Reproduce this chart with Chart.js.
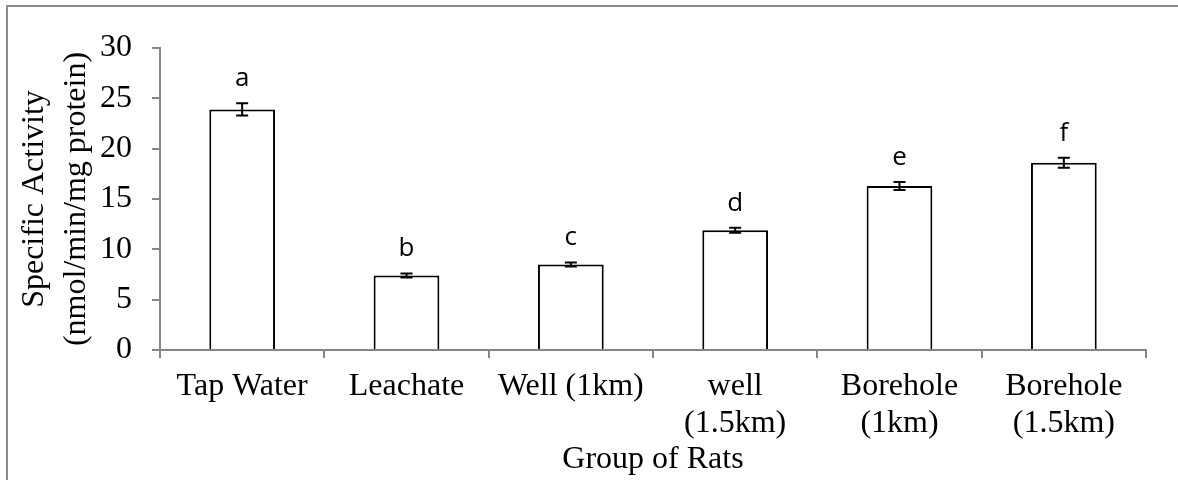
<!DOCTYPE html>
<html>
<head>
<meta charset="utf-8">
<script src="https://cdn.jsdelivr.net/npm/chart.js@4.4.1/dist/chart.umd.min.js"></script>
<style>
  html, body { margin: 0; padding: 0; background: #fff; }
  #wrap { position: relative; width: 1178px; height: 480px; }
  #frame { position: absolute; left: 6px; top: 5px; right: 0; bottom: 0; border-left: 2px solid #8a8a8a; border-top: 2px solid #8a8a8a; pointer-events: none; }
</style>
</head>
<body>
<div id="wrap">
  <canvas id="rats-chart" width="1178" height="480"></canvas>
  <div id="frame"></div>
</div>
<script>
let groups = ['Tap Water', 'Leachate', 'Well (1km)', ['well', '(1.5km)'], ['Borehole', '(1km)'], ['Borehole', '(1.5km)']],
    activity = [23.9, 7.4, 8.5, 11.9, 16.3, 18.6],
    activityErr = [0.6, 0.2, 0.2, 0.25, 0.4, 0.5],
    letters = ['a', 'b', 'c', 'd', 'e', 'f'],
    yTicks = [0, 5, 10, 15, 20, 25, 30];

let serif = "'Liberation Serif', 'Times New Roman', serif",
    axisGrey = '#868686';

let errorBars = {
    id: 'errorBars',
    afterDatasetsDraw(chart) {
        let c = chart.ctx,
            meta = chart.getDatasetMeta(0),
            y = chart.scales.y;
        c.save();
        c.strokeStyle = '#000';
        c.lineWidth = 2;
        c.fillStyle = '#000';
        c.font = "26px 'Open Sans', sans-serif";
        c.textAlign = 'center';
        c.textBaseline = 'alphabetic';
        meta.data.forEach((bar, i) => {
            let x = bar.x,
                top = y.getPixelForValue(activity[i] + activityErr[i]),
                bot = y.getPixelForValue(activity[i] - activityErr[i]);
            c.beginPath();
            c.moveTo(x, top); c.lineTo(x, bot);
            c.moveTo(x - 6, top); c.lineTo(x + 6, top);
            c.moveTo(x - 6, bot); c.lineTo(x + 6, bot);
            c.stroke();
            c.fillText(letters[i], x, top - 17);
        });
        c.restore();
    }
};

let ctx = document.getElementById('rats-chart');

let ratsChart = new Chart(ctx, {
    type: 'bar',
    data: {
        labels: groups,
        datasets: [{
            data: activity,
            backgroundColor: '#ffffff',
            borderColor: '#000000',
            borderWidth: 2,
            categoryPercentage: 1.0,
            barPercentage: 0.4
        }]
    },
    options: {
        responsive: false,
        animation: false,
        layout: { padding: { left: 14, right: 32, top: 48, bottom: 0 } },
        plugins: {
            legend: { display: false },
            tooltip: { enabled: false }
        },
        scales: {
            x: {
                afterFit: axis => { axis.height = 130; },
                grid: { display: true, drawOnChartArea: false, drawTicks: true, tickLength: 8, color: axisGrey, lineWidth: 2 },
                border: { display: true, color: axisGrey, width: 2 },
                ticks: { color: '#000', font: { family: serif, size: 32, lineHeight: 1.16 }, padding: 10, maxRotation: 0, autoSkip: false },
                title: { display: true, text: 'Group of Rats', color: '#000', font: { family: serif, size: 32, lineHeight: 1.0 }, padding: { top: 2, bottom: 4 } }
            },
            y: {
                min: 0,
                max: 30,
                afterFit: axis => { axis.width = 146; },
                afterBuildTicks: axis => { axis.ticks = yTicks.map(v => ({ value: v })); },
                grid: { display: true, drawOnChartArea: false, drawTicks: true, tickLength: 8, color: axisGrey, lineWidth: 2 },
                border: { display: true, color: axisGrey, width: 2 },
                ticks: { color: '#000', font: { family: serif, size: 32 }, padding: 20 },
                title: { display: true, text: ['Specific Activity', '(nmol/min/mg protein)'], color: '#000', font: { family: serif, size: 32, lineHeight: 1.3 }, padding: { top: 0, bottom: 3 } }
            }
        }
    },
    plugins: [errorBars]
});
</script>
</body>
</html>
